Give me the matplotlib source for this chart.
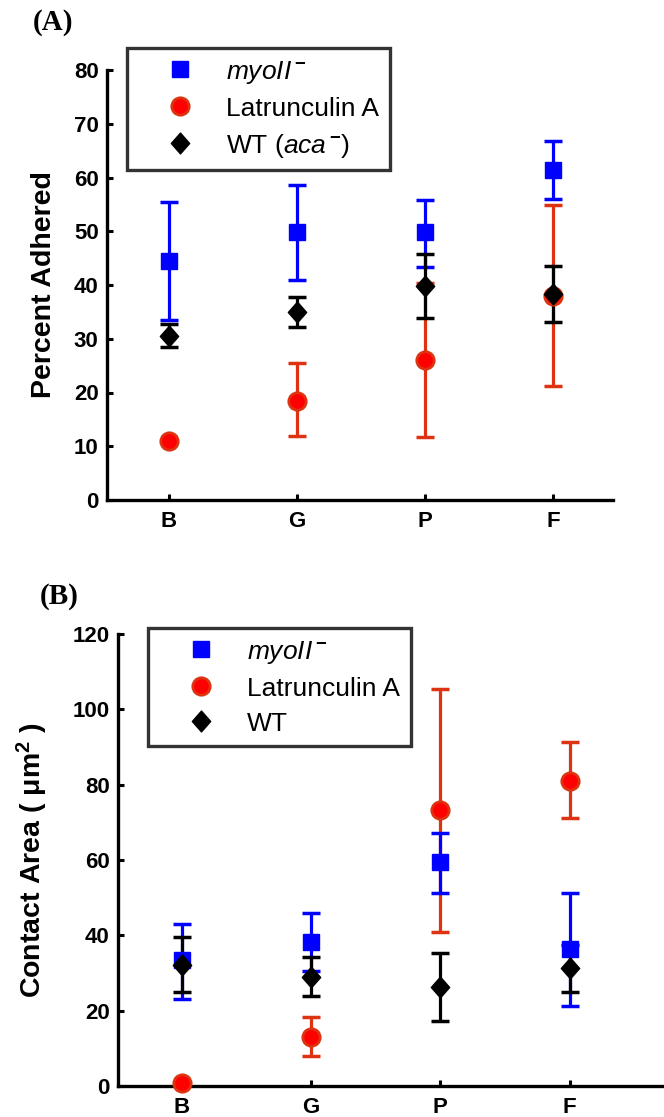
import matplotlib
matplotlib.use("Agg")
import matplotlib.pyplot as plt
from matplotlib.lines import Line2D
from matplotlib.path import Path
import numpy as np

plt.rcParams['font.family'] = ['Liberation Sans', 'DejaVu Sans']
plt.rcParams['mathtext.fontset'] = 'custom'
plt.rcParams['mathtext.rm'] = 'Liberation Sans'
plt.rcParams['mathtext.it'] = 'Liberation Sans:italic'
plt.rcParams['mathtext.bf'] = 'Liberation Sans:bold'

# ---- data ----
conditions = ['B', 'G', 'P', 'F']

# (A) percent adhered
adh_myo = [44.5, 49.8, 49.8, 61.4]
adh_myo_lo = [33.5, 41.0, 43.3, 56.0]
adh_myo_hi = [55.5, 58.6, 55.8, 66.8]
adh_lat = [11.0, 18.5, 26.0, 38.0]
adh_lat_lo = [11.0, 12.0, 11.7, 21.3]
adh_lat_hi = [11.0, 25.4, 40.3, 54.8]
adh_wt = [30.5, 34.9, 39.8, 38.3]
adh_wt_lo = [28.4, 32.2, 33.9, 33.2]
adh_wt_hi = [32.7, 37.7, 45.7, 43.5]

# (B) contact area
area_myo = [33.4, 38.3, 59.4, 36.4]
area_myo_lo = [23.1, 30.6, 51.2, 21.3]
area_myo_hi = [43.1, 46.0, 67.2, 51.3]
area_lat = [0.9, 13.1, 73.3, 81.0]
area_lat_lo = [0.9, 8.0, 41.0, 71.2]
area_lat_hi = [0.9, 18.4, 105.3, 91.2]
area_wt = [32.1, 29.0, 26.2, 31.2]
area_wt_lo = [25.0, 24.0, 17.3, 25.0]
area_wt_hi = [39.5, 34.3, 35.2, 37.4]

BLUE = '#0000ff'
RED_EDGE = '#dd3311'
RED_FACE = '#ff0000'
BLACK = '#000000'

diamond = Path([(0, 1), (0.88, 0), (0, -1), (-0.88, 0), (0, 1)],
               [Path.MOVETO, Path.LINETO, Path.LINETO, Path.LINETO, Path.CLOSEPOLY])

styles = {
    'myo': dict(marker='s', ms=12, mfc=BLUE, mec=BLUE, mew=1.0, ecolor=BLUE),
    'lat': dict(marker='o', ms=12.5, mfc=RED_FACE, mec=RED_EDGE, mew=2.0, ecolor=RED_EDGE),
    'wt': dict(marker=diamond, ms=15, mfc=BLACK, mec=BLACK, mew=1.0, ecolor=BLACK),
}

W, H = 664, 1117
fig = plt.figure(figsize=(W / 100, H / 100), dpi=100)


def px_axes(left, right, top, bottom):
    return fig.add_axes([left / W, 1 - bottom / H, (right - left) / W, (bottom - top) / H])


def draw_series(ax, x, y, lo, hi, key):
    st = styles[key]
    y = np.asarray(y)
    yerr = np.vstack([y - np.asarray(lo), np.asarray(hi) - y])
    ax.errorbar(x, y, yerr=yerr, fmt='none', ecolor=st['ecolor'], elinewidth=2.3,
                capsize=6.5, capthick=2.5, clip_on=False, zorder=2)
    ax.plot(x, y, linestyle='none', marker=st['marker'], ms=st['ms'], mfc=st['mfc'],
            mec=st['mec'], mew=st['mew'], clip_on=False, zorder=3)


def style_axes(ax, ylim, yticks, xlim):
    ax.set_xlim(*xlim)
    ax.set_ylim(*ylim)
    ax.set_yticks(yticks)
    ax.set_xticks(range(1, len(conditions) + 1))
    ax.set_xticklabels(conditions)
    for s in ['top', 'right']:
        ax.spines[s].set_visible(False)
    for s in ['left', 'bottom']:
        ax.spines[s].set_linewidth(2.4)
    ax.tick_params(direction='in', length=4, width=2.2, labelsize=16)
    ax.tick_params(axis='y', pad=6)
    ax.tick_params(axis='x', pad=8)
    for lab in ax.get_xticklabels() + ax.get_yticklabels():
        lab.set_fontweight('bold')


def make_legend(ax, labels, anchor):
    handles = []
    for key in ['myo', 'lat', 'wt']:
        st = styles[key]
        handles.append(Line2D([], [], linestyle='none', marker=st['marker'], ms=st['ms'],
                              mfc=st['mfc'], mec=st['mec'], mew=st['mew']))
    leg = ax.legend(handles, labels, loc='upper left', bbox_to_anchor=anchor,
                    bbox_transform=fig.transFigure, frameon=True, fancybox=False,
                    fontsize=19, handlelength=3.2, handletextpad=0.15,
                    borderpad=0.4, labelspacing=0.42, borderaxespad=0.0)
    fr = leg.get_frame()
    fr.set_edgecolor('black')
    fr.set_linewidth(2.4)
    return leg


x = np.arange(1, len(conditions) + 1)

# ---- (A) ----
axA = px_axes(107, 613, 70, 500)
draw_series(axA, x, adh_lat, adh_lat_lo, adh_lat_hi, 'lat')
draw_series(axA, x, adh_myo, adh_myo_lo, adh_myo_hi, 'myo')
draw_series(axA, x, adh_wt, adh_wt_lo, adh_wt_hi, 'wt')
style_axes(axA, (0, 80), range(0, 81, 10), (0.516, 4.47))
axA.set_ylabel('Percent Adhered', fontsize=20.5, fontweight='bold')
axA.yaxis.set_label_coords((57 - 107) / 506, 0.5)
make_legend(axA, [r'$\mathit{myoII}^{\,\mathbf{-}}$', 'Latrunculin A',
                  r'WT ($\mathit{aca}^{\,\mathbf{-}}$)'],
            (127 / W, 1 - 48 / H))
fig.text(33 / W, 1 - 23 / H, '(A)', family='Liberation Serif', fontweight='bold',
         fontsize=21, va='center', ha='left')

# ---- (B) ----
axB = px_axes(118, 664, 634, 1086)
draw_series(axB, x, area_lat, area_lat_lo, area_lat_hi, 'lat')
draw_series(axB, x, area_myo, area_myo_lo, area_myo_hi, 'myo')
draw_series(axB, x, area_wt, area_wt_lo, area_wt_hi, 'wt')
style_axes(axB, (0, 120), range(0, 121, 20), (0.507, 4.73))
axB.set_ylabel(r'Contact Area ( $\mathbf{\mu m}^{\mathbf{2}}$ )', fontsize=20.5,
               fontweight='bold')
axB.yaxis.set_label_coords((50 - 118) / 546, 0.5)
make_legend(axB, [r'$\mathit{myoII}^{\,\mathbf{-}}$', 'Latrunculin A', 'WT'],
            (148 / W, 1 - 628 / H))
fig.text(40 / W, 1 - 597 / H, '(B)', family='Liberation Serif', fontweight='bold',
         fontsize=21, va='center', ha='left')

fig.savefig('out.png', dpi=100)
